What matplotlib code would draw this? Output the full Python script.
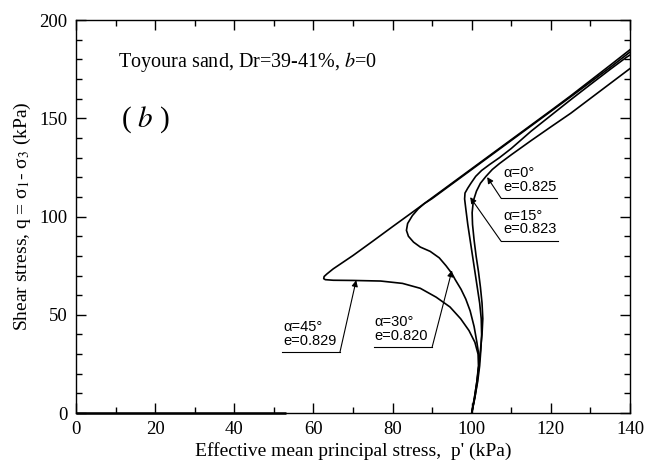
import matplotlib
matplotlib.use("Agg")
import matplotlib.pyplot as plt
from matplotlib.ticker import MultipleLocator

plt.rcParams['font.family'] = ['Liberation Serif', 'DejaVu Serif']
plt.rcParams['mathtext.fontset'] = 'stix'

# effective stress paths p' (kPa), q (kPa) for each loading direction
p_a45 = [100.0, 100.7, 101.3, 101.7, 101.6, 100.8, 99.3, 97.2, 94.5, 91.0, 87.0, 82.5, 77.0, 70.0,
         65.0, 63.0, 62.6, 62.7, 63.4, 65.0, 67.5, 70.0, 75.0, 80.0, 85.0, 90.0, 95.0, 100.0, 105.0,
         110.0, 115.0, 120.0, 125.0, 130.0, 135.0, 140.0]
q_a45 = [0.0, 8.0, 16.0, 24.0, 30.0, 36.0, 42.0, 48.0, 54.0, 59.0, 63.5, 66.0, 67.2, 67.5,
         67.6, 67.9, 68.4, 69.5, 70.8, 73.4, 76.8, 80.2, 87.5, 94.9, 102.2, 109.6, 117.0, 124.4, 131.8,
         139.2, 146.6, 154.0, 161.5, 169.3, 177.1, 185.0]

p_a30 = [100.0, 100.8, 101.4, 101.8, 101.9, 101.3, 100.6, 99.6, 98.5, 97.3, 95.8, 95.0, 93.5,
         91.8, 89.5, 87.0, 85.3, 84.0, 83.5, 83.8, 85.0, 86.5, 88.0, 90.0, 95.0, 100.0, 105.0,
         110.0, 115.0, 120.0, 125.0, 130.0, 135.0, 140.0]
q_a30 = [0.0, 8.0, 16.0, 24.0, 28.0, 36.0, 44.0, 52.0, 58.0, 63.0, 68.0, 71.0, 75.0,
         79.0, 82.3, 84.5, 87.0, 90.0, 93.0, 96.5, 100.5, 104.0, 106.6, 109.2, 116.6, 124.0, 131.4,
         138.8, 146.2, 153.6, 161.0, 168.5, 176.0, 183.8]

p_a15 = [100.0, 100.8, 101.5, 102.0, 102.3, 102.5, 102.4, 102.0, 101.4, 100.8, 100.2, 99.6, 99.0,
         98.5, 98.2, 98.3, 99.0, 99.8, 101.0, 102.5, 104.5, 107.0, 110.0, 115.0, 120.0, 125.0,
         130.0, 135.0, 139.0, 140.0]
q_a15 = [0.0, 8.0, 16.0, 24.0, 32.0, 40.0, 48.0, 56.0, 64.0, 72.0, 80.0, 88.0, 96.0,
         104.0, 109.0, 112.0, 114.5, 117.0, 120.5, 123.5, 126.5, 130.0, 134.7, 143.5, 151.5, 159.5,
         167.3, 175.0, 181.0, 182.3]

p_a0 = [100.0, 100.7, 101.3, 101.8, 102.2, 102.6, 102.8, 102.6, 102.2, 101.7, 101.1, 100.6, 100.2,
        100.1, 100.4, 101.2, 102.2, 103.6, 105.2, 107.0, 110.0, 115.0, 120.0, 125.0, 130.0, 135.0,
        140.0]
q_a0 = [0.0, 8.0, 16.0, 24.0, 32.0, 40.0, 48.0, 56.0, 64.0, 72.0, 80.0, 88.0, 96.0,
        102.0, 108.0, 113.0, 117.0, 120.5, 124.0, 127.0, 131.5, 138.7, 145.7, 152.6, 160.2, 167.8,
        175.4]

# labels: text, text anchor, underline (x0, x1, y), arrow tail, arrow tip
labels = ["α=0°\ne=0.825", "α=15°\ne=0.823", "α=45°\ne=0.829", "α=30°\ne=0.820"]
label_xy = [(107.9, 111.6), (107.9, 89.9), (52.3, 33.2), (75.3, 35.8)]
underline = [(107.4, 121.6, 109.4), (107.4, 121.8, 87.5), (52.1, 66.7, 31.0), (75.3, 90.0, 33.6)]
arrow_tail = [(107.4, 109.4), (107.4, 87.5), (66.7, 31.0), (90.0, 33.6)]
arrow_tip = [(103.9, 120.1), (99.6, 109.9), (70.8, 67.6), (95.0, 72.6)]

fig = plt.figure(figsize=(6.45, 4.71), dpi=100)
ax = fig.add_axes([0.1178, 0.1231, 0.859, 0.834])

for p, q in [(p_a45, q_a45), (p_a30, q_a30), (p_a15, q_a15), (p_a0, q_a0)]:
    ax.plot(p, q, color='black', lw=1.2)

# heavier stroke along the base line
ax.plot([0, 53], [0, 0], color='black', lw=1.8, clip_on=False, solid_capstyle='butt')

for txt, (tx, ty), (x0, x1, uy), tail, tip in zip(labels, label_xy, underline, arrow_tail, arrow_tip):
    ax.text(tx, ty, txt, fontsize=10.5, family=['Liberation Sans', 'DejaVu Sans'],
            ha='left', va='bottom', linespacing=0.95)
    ax.plot([x0, x1], [uy, uy], color='black', lw=0.8)
    ax.annotate('', xy=tip, xytext=tail,
                arrowprops=dict(arrowstyle='-|>', color='black', lw=0.8,
                                mutation_scale=9, shrinkA=0, shrinkB=0))

ax.text(10.6, 178.5, "Toyoura sand, Dr=39-41%, $b$=0", fontsize=14.5, va='center')
ax.text(11.5, 149.5, "( $b$ )", fontsize=21, va='center')

ax.set_xlim(0, 140)
ax.set_ylim(0, 200)
ax.xaxis.set_major_locator(MultipleLocator(20))
ax.xaxis.set_minor_locator(MultipleLocator(10))
ax.yaxis.set_major_locator(MultipleLocator(50))
ax.yaxis.set_minor_locator(MultipleLocator(10))
ax.tick_params(which='both', direction='in', top=True, right=True, labelsize=13.5)
ax.tick_params(axis='x', which='major', pad=6)
ax.tick_params(axis='y', which='major', pad=6)
ax.tick_params(which='major', length=7, width=1)
ax.tick_params(which='minor', length=4, width=1)
for s in ax.spines.values():
    s.set_linewidth(1.0)

ax.set_xlabel("Effective mean principal stress,  p' (kPa)", fontsize=14, labelpad=3)
ax.set_ylabel("Shear stress, q = σ$_1$- σ$_3$ (kPa)", fontsize=14, labelpad=5)

fig.savefig("out.png", dpi=100)
